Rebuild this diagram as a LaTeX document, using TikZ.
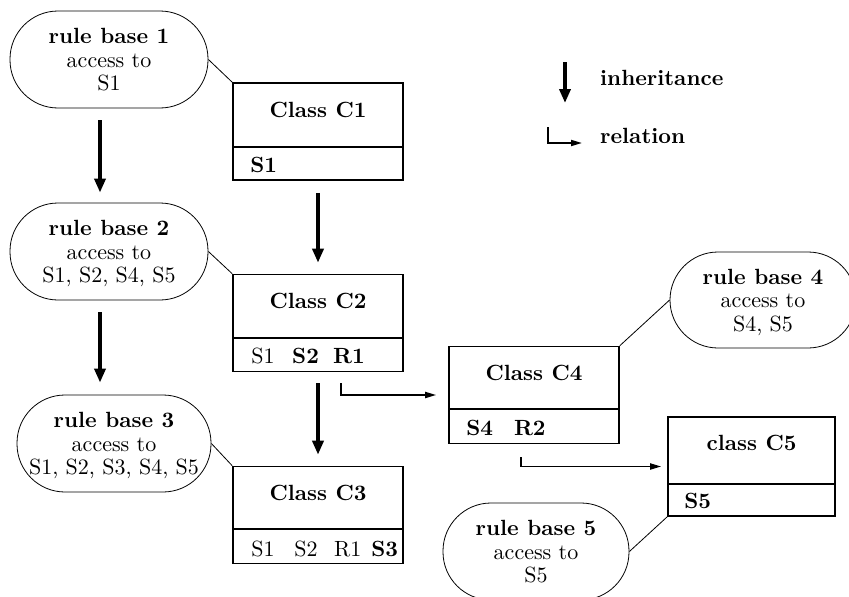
\documentclass[tikz,border=0pt]{standalone}
\usetikzlibrary{arrows.meta}
\newcommand\Sx[1]{\scalebox{2.2}{#1}}
\newcommand\RB[2]{\Sx{\renewcommand\arraystretch{0.89}\begin{tabular}{@{}c@{}}\textbf{rule base #1}\\access to\\#2\end{tabular}}}
\tikzset{
  rb/.style={draw, line width=0.8pt, rounded corners=48pt, inner sep=0pt},
  cls/.style={draw, line width=1.6pt, minimum width=170pt, minimum height=97pt, inner sep=0pt},
  txt/.style={inner sep=0pt},
  inh/.style={line width=3.6pt, -{Triangle[length=14pt,width=11pt]}},
  rel/.style={line width=1.8pt, -{Triangle[length=11pt,width=6pt]}},
  link/.style={line width=0.8pt},
  divider/.style={line width=1.6pt}
}
\begin{document}
\begin{tikzpicture}[x=1pt,y=-1pt]
\useasboundingbox (0,0) rectangle (849,597);
% rule bases
\node[rb, minimum width=198pt, minimum height=97pt] (rb1) at (109,59.5) {};
\node[rb, minimum width=198pt, minimum height=97pt] (rb2) at (109,251.5) {};
\node[rb, minimum width=194pt, minimum height=97pt] (rb3) at (114,443.5) {};
\node[rb, minimum width=186pt, minimum height=96pt] (rb4) at (763,300) {};
\node[rb, minimum width=186pt, minimum height=97pt] (rb5) at (536,551.5) {};
\node[txt] (rb1t) at ([yshift=-3pt]rb1.center) {\RB{1}{S1}};
\node[txt] (rb2t) at ([yshift=-3pt]rb2.center) {\RB{2}{S1, S2, S4, S5}};
\node[txt] (rb3t) at ([yshift=-3pt]rb3.center) {\RB{3}{S1, S2, S3, S4, S5}};
\node[txt] (rb4t) at ([yshift=-3pt]rb4.center) {\RB{4}{S4, S5}};
\node[txt] (rb5t) at ([yshift=-3pt]rb5.center) {\RB{5}{S5}};
% classes
\node[cls] (c1) at (318,131.5) {};
\node[cls] (c2) at (318,323) {};
\node[cls] (c3) at (318,515) {};
\node[cls] (c4) at (534,395) {};
\node[cls, minimum width=167pt, minimum height=99pt] (c5) at (751.5,466.5) {};
\foreach \c/\d in {c1/65,c2/64,c3/63,c4/63,c5/68}{
  \draw[divider] ([yshift=-\d pt]\c.north west) -- ([yshift=-\d pt]\c.north east);
}
\node[txt, anchor=base] (c1t) at ([yshift=-35pt]c1.north) {\Sx{\textbf{Class C1}}};
\node[txt, anchor=base] (c2t) at ([yshift=-35pt]c2.north) {\Sx{\textbf{Class C2}}};
\node[txt, anchor=base] (c3t) at ([yshift=-35pt]c3.north) {\Sx{\textbf{Class C3}}};
\node[txt, anchor=base] (c4t) at ([yshift=-35pt]c4.north) {\Sx{\textbf{Class C4}}};
\node[txt, anchor=base] (c5t) at ([yshift=-34pt]c5.north) {\Sx{\textbf{class C5}}};
\node[txt, anchor=base west] (c1s) at ([xshift=18pt,yshift=8pt]c1.south west) {\Sx{\textbf{S1}}};
\node[txt, anchor=base west] (c2s) at ([xshift=19pt,yshift=9pt]c2.south west) {\Sx{S1\hspace{8pt}\textbf{S2\hspace{6.5pt}R1}}};
\node[txt, anchor=base west] (c3s) at ([xshift=19pt,yshift=8pt]c3.south west) {\Sx{S1\hspace{9pt}S2\hspace{7.5pt}R1\hspace{4.5pt}\textbf{S3}}};
\node[txt, anchor=base west] (c4s) at ([xshift=18pt,yshift=9pt]c4.south west) {\Sx{\textbf{S4\hspace{9.5pt}R2}}};
\node[txt, anchor=base west] (c5s) at ([xshift=17pt,yshift=8pt]c5.south west) {\Sx{\textbf{S5}}};
% links rule base -- class
\draw[link] (rb1.east) -- (c1.north west);
\draw[link] (rb2.east) -- (c2.north west);
\draw[link] (rb3.east) -- (c3.north west);
\draw[link] (rb4.west) -- (c4.north east);
\draw[link] (rb5.east) -- (c5.south west);
% inheritance
\coordinate (a1) at ([xshift=-9pt]rb1.south);
\coordinate (a2) at ([xshift=-9pt]rb2.south);
\draw[inh, shorten <=12pt, shorten >=10pt] (a1) -- (a1 |- rb2.north);
\draw[inh, shorten <=12pt, shorten >=12pt] (a2) -- (a2 |- rb3.north);
\draw[inh, shorten <=12pt, shorten >=11pt] (c1.south) -- (c2.north);
\draw[inh, shorten <=11pt, shorten >=11pt] (c2.south) -- (c3.north);
% relations
\draw[rel, shorten >=12pt] ([xshift=109pt,yshift=-11pt]c2.south west) |- (c4.west);
\draw[rel, shorten >=6pt] ([xshift=73pt,yshift=-13pt]c4.south west) |- (c5.west);
% legend
\coordinate (li1) at (565,62);
\coordinate (li2) at (565,103);
\coordinate (lr1) at (548,127);
\coordinate (lr2) at (582,143);
\draw[inh] (li1) -- (li2);
\draw[rel] (lr1) |- (lr2);
\node[txt, anchor=base west] (lit) at (600,85) {\Sx{\textbf{inheritance}}};
\node[txt, anchor=base west] (lrt) at (600,143) {\Sx{\textbf{relation}}};
\end{tikzpicture}
\end{document}
